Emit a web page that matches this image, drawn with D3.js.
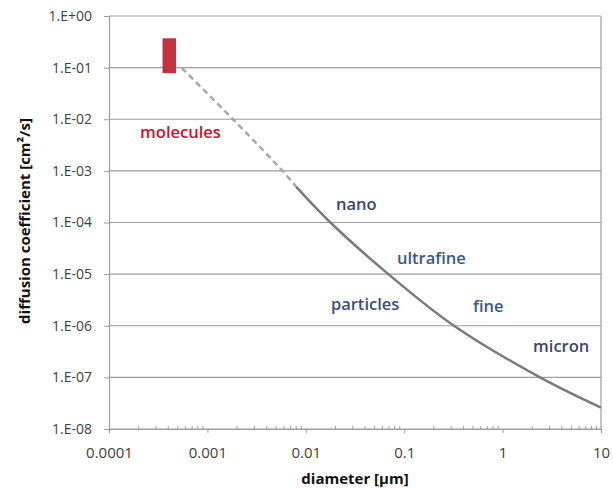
<!DOCTYPE html>
<html>
<head>
<meta charset="utf-8">
<script src="https://cdn.jsdelivr.net/npm/d3@7"></script>
<style>
  body { margin: 0; background: #fff; }
  text { font-family: "Open Sans", "Liberation Sans", sans-serif; }
</style>
</head>
<body>
<script>
// diameters in µm, diffusion coefficient in cm²/s
var solidDiam = [0.008, 0.0178, 0.069, 0.32, 2.4, 10];
var solidD = [4.9e-4, 1e-4, 1e-5, 1e-6, 1e-7, 2.6e-8];

var dashDiam = [5.5e-4, 1.82e-3, 5.8e-3, 0.008];
var dashD = [0.098, 0.01, 0.001, 4.9e-4];

// molecule box: diameter range and D range
var molDiam = [3.5e-4, 4.8e-4];
var molD = [0.078, 0.37];

var xTicks = [0.0001, 0.001, 0.01, 0.1, 1, 10];
var xTickLabels = ["0.0001", "0.001", "0.01", "0.1", "1", "10"];
var yTicks = [1e-8, 1e-7, 1e-6, 1e-5, 1e-4, 1e-3, 1e-2, 1e-1, 1];
var yTickLabels = ["1.E-08", "1.E-07", "1.E-06", "1.E-05", "1.E-04", "1.E-03", "1.E-02", "1.E-01", "1.E+00"];

// label anchors: left edge / baseline, in data units
var labels = [
  {text: "molecules", x: 2.07e-4, y: 4.3e-3, color: "#cc1133"},
  {text: "nano", x: 0.0203, y: 1.74e-4, color: "#3b4670"},
  {text: "ultrafine", x: 0.0845, y: 1.56e-5, color: "#3d5688"},
  {text: "particles", x: 0.018, y: 2.0e-6, color: "#3b4f80"},
  {text: "fine", x: 0.5, y: 1.84e-6, color: "#3d5688"},
  {text: "micron", x: 2.04, y: 3.08e-7, color: "#3b4670"}
];

var width = 613, height = 489;
var plotLeft = 109, plotRight = 601, plotTop = 16, plotBottom = 429;

var svg = d3.select("body").
  append("svg").
  attr("width", width).
  attr("height", height);

var x = d3.scaleLog().domain([1e-4, 10]).range([plotLeft, plotRight]);
var y = d3.scaleLog().domain([1e-8, 1]).range([plotBottom, plotTop]);

// horizontal grid
svg.append("g").
  selectAll("line").
  data(yTicks).
  enter().append("line").
  attr("x1", plotLeft).
  attr("x2", plotRight).
  attr("y1", function(d) { return y(d); }).
  attr("y2", function(d) { return y(d); }).
  attr("stroke", "#9d9d9d").
  attr("stroke-width", 1.2);

// right border
svg.append("line").
  attr("x1", plotRight).attr("x2", plotRight).
  attr("y1", plotTop).attr("y2", plotBottom).
  attr("stroke", "#9d9d9d").attr("stroke-width", 1.2);

// y axis
var yAxis = d3.axisLeft(y).
  tickValues(yTicks).
  tickFormat(function(d, i) { return yTickLabels[i]; }).
  tickSize(5).
  tickPadding(12);

var gy = svg.append("g").
  attr("transform", "translate(" + plotLeft + ",0)").
  call(yAxis);

// x axis, major ticks
var xAxis = d3.axisBottom(x).
  tickValues(xTicks).
  tickFormat(function(d, i) { return xTickLabels[i]; }).
  tickSize(4).
  tickPadding(14);

var gx = svg.append("g").
  attr("transform", "translate(0," + plotBottom + ")").
  call(xAxis);

// minor ticks on x, pointing inward
var minor = [];
xTicks.slice(0, -1).forEach(function(t) {
  for (var k = 2; k <= 9; k++) minor.push(t * k);
});
svg.append("g").
  selectAll("line").
  data(minor).
  enter().append("line").
  attr("x1", function(d) { return x(d); }).
  attr("x2", function(d) { return x(d); }).
  attr("y1", plotBottom).
  attr("y2", plotBottom - 3).
  attr("stroke", "#9d9d9d");

[gx, gy].forEach(function(g) {
  g.select(".domain").attr("stroke", "#9d9d9d").attr("stroke-width", 1.2);
  g.selectAll(".tick line").attr("stroke", "#9d9d9d");
  g.selectAll(".tick text").attr("fill", "#404040");
});
gy.selectAll(".tick text").style("font-size", "14px");
gx.selectAll(".tick text").style("font-size", "15px");

// curves
var line = d3.line().
  x(function(d) { return x(d[0]); }).
  y(function(d) { return y(d[1]); }).
  curve(d3.curveCatmullRom.alpha(0.5));

svg.append("path").
  datum(d3.zip(dashDiam, dashD)).
  attr("d", line).
  attr("fill", "none").
  attr("stroke", "#a8a8a8").
  attr("stroke-width", 2.5).
  attr("stroke-dasharray", "6,4");

svg.append("path").
  datum(d3.zip(solidDiam, solidD)).
  attr("d", line).
  attr("fill", "none").
  attr("stroke", "#7a7a7a").
  attr("stroke-width", 2.5);

// molecule box
svg.append("rect").
  attr("x", x(molDiam[0])).
  attr("y", y(molD[1])).
  attr("width", x(molDiam[1]) - x(molDiam[0])).
  attr("height", y(molD[0]) - y(molD[1])).
  attr("fill", "#c4303f");

// region labels
svg.append("g").
  selectAll("text").
  data(labels).
  enter().append("text").
  attr("x", function(d) { return x(d.x); }).
  attr("y", function(d) { return y(d.y); }).
  attr("fill", function(d) { return d.color; }).
  style("font-size", "16.5px").
  style("font-weight", 600).
  text(function(d) { return d.text; });

// axis titles
svg.append("text").
  attr("x", 355).
  attr("y", 484).
  attr("text-anchor", "middle").
  style("font-size", "15px").
  style("font-weight", 700).
  attr("fill", "#111").
  text("diameter [µm]");

svg.append("text").
  attr("transform", "translate(30," + 221 + ") rotate(-90)").
  attr("text-anchor", "middle").
  style("font-size", "15px").
  style("font-weight", 700).
  attr("fill", "#111").
  text("diffusion coefficient [cm²/s]");
</script>
</body>
</html>
